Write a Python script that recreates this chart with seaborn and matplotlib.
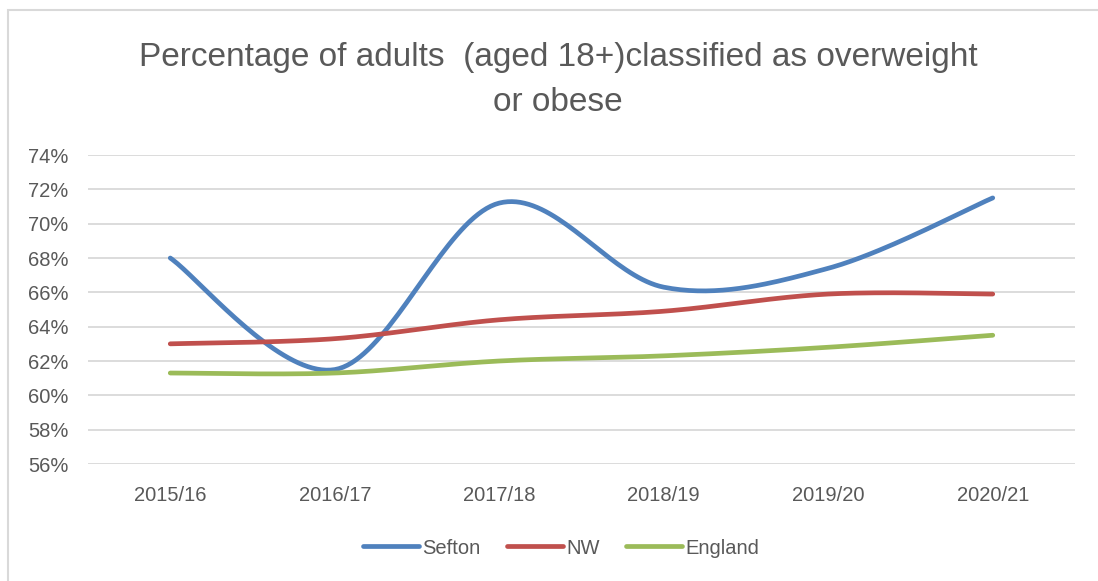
import numpy as np
import pandas as pd
import seaborn as sns
from matplotlib import pyplot as plt
from matplotlib.patches import Rectangle

sns.set_theme(style="white")
plt.rcParams['font.family'] = ['Liberation Sans', 'DejaVu Sans']

# 数据
years = ["2015/16", "2016/17", "2017/18", "2018/19", "2019/20", "2020/21"]
sefton = [68.0, 61.5, 71.2, 66.3, 67.4, 71.5]
nw = [63.0, 63.3, 64.4, 64.9, 65.9, 65.9]
england = [61.3, 61.3, 62.0, 62.3, 62.8, 63.5]
series_names = ["Sefton", "NW", "England"]
colors = ["#4F81BD", "#C0504D", "#9BBB59"]


# Excel 风格的平滑曲线（贝塞尔）
def smooth(values, steps=40):
    x = np.arange(len(values), dtype=float)
    y = np.array(values, dtype=float) / 100
    px = np.concatenate([[x[0]], x, [x[-1]]])
    py = np.concatenate([[y[0]], y, [y[-1]]])
    xs, ys = [], []
    t = np.linspace(0, 1, steps)
    for i in range(len(x) - 1):
        p0 = np.array([x[i], y[i]])
        p3 = np.array([x[i + 1], y[i + 1]])
        p1 = p0 + (np.array([px[i + 2], py[i + 2]]) - np.array([px[i], py[i]])) / 6
        p2 = p3 - (np.array([px[i + 3], py[i + 3]]) - np.array([px[i + 1], py[i + 1]])) / 6
        b = ((1 - t) ** 3)[:, None] * p0 + (3 * (1 - t) ** 2 * t)[:, None] * p1 \
            + (3 * (1 - t) * t ** 2)[:, None] * p2 + (t ** 3)[:, None] * p3
        xs.extend(b[:, 0])
        ys.extend(b[:, 1])
    return xs, ys


frames = []
for name, vals in zip(series_names, [sefton, nw, england]):
    xs, ys = smooth(vals)
    frames.append(pd.DataFrame({"x": xs, "y": ys, "series": name}))
df = pd.concat(frames, ignore_index=True)

fig = plt.figure(figsize=(10.98, 5.81), dpi=100)
fig.patch.set_facecolor("white")
fig.patches.append(Rectangle((8 / 1098, -0.1), 1.2, 1 - 10 / 581 + 0.1,
                             transform=fig.transFigure, fill=False,
                             edgecolor="#D9D9D9", linewidth=1.5))
ax = fig.add_axes([88 / 1098, 1 - 464 / 581, 987 / 1098, 309 / 581])

sns.lineplot(data=df, x="x", y="y", hue="series", palette=colors,
             sort=False, estimator=None, linewidth=3.4, ax=ax,
             solid_capstyle="round")

ax.set_xlim(-0.5, len(years) - 0.5)
ax.set_ylim(0.56, 0.74)
yt = np.arange(0.56, 0.7401, 0.02)
ax.set_yticks(yt)
ax.set_yticklabels([f"{v * 100:.0f}%" for v in yt])
ax.set_xticks(range(len(years)))
ax.set_xticklabels(years)
ax.tick_params(axis="both", colors="#595959", labelsize=14.5, length=0)
ax.tick_params(axis="y", pad=14)
ax.tick_params(axis="x", pad=16)
ax.set_xlabel("")
ax.set_ylabel("")
ax.grid(axis="y", color="#D9D9D9", linewidth=1.3)
ax.set_axisbelow(True)
for s in ax.spines.values():
    s.set_visible(False)

fig.text(558 / 1098, 1 - 80 / 581,
         "Percentage of adults  (aged 18+)classified as overweight\nor obese",
         ha="center", va="center", fontsize=24, color="#595959",
         linespacing=1.6)

handles, labels = ax.get_legend_handles_labels()
ax.legend(handles, labels, loc="center", bbox_to_anchor=(561 / 1098, 1 - 548 / 581),
          bbox_transform=fig.transFigure, ncol=3, frameon=False,
          fontsize=14.5, labelcolor="#595959", handlelength=2.8,
          handletextpad=0.15, columnspacing=1.3)

plt.savefig("out.png", dpi=100)
